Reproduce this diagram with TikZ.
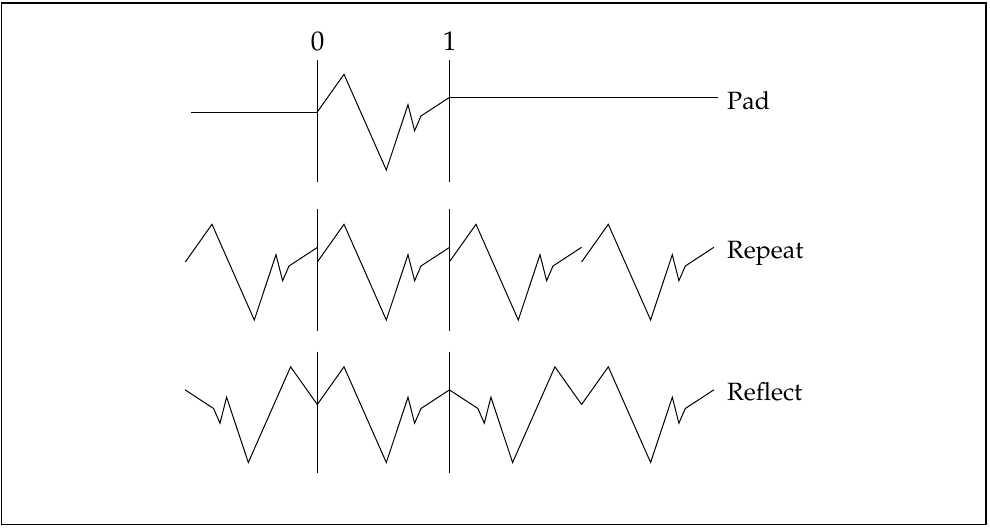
\documentclass[tikz,border=0pt]{standalone}
\usepackage[T1]{fontenc}
\usepackage{mathpazo}
\tikzset{
  waveline/.style={line width=1pt, line join=miter},
  axisline/.style={line width=1.1pt},
  lbl/.style={anchor=base west, inner sep=0pt, font=\fontsize{25}{28}\selectfont},
  tick/.style={anchor=base, inner sep=0pt, font=\fontsize{27}{30}\selectfont}
}
\newcommand{\wavepiece}[3]{%
  \draw[waveline, shift={(#1,#2)}, xscale=#3]
    (0,0) -- (26.7,-37.7) -- (69,58) -- (90.7,-7.3) -- (97.3,18.7) -- (103.7,4) -- (132.3,-14.7);}
\begin{document}
\begin{tikzpicture}[x=1pt,y=-1pt]
\useasboundingbox (0,0) rectangle (990,530);
\draw[line width=1.2pt] (1.5,3) rectangle (986,524.7);
% axis labels
\node[tick] (n0) at (317.5,50.7) {0};
\node[tick] (n1) at (449.5,50.7) {1};
% Pad row
\coordinate (padL) at (191,112);
\coordinate (padS) at (317.3,112);
\coordinate (padE) at (449.6,97.3);
\coordinate (padR) at (717.7,97.3);
\node[lbl] (pad) at (727,109.3) {Pad};
\draw[waveline] (padL) -- (padS);
\wavepiece{317.3}{112}{1}
\draw[waveline] (padE) -- (padR);
\draw[axisline] (317.3,60) -- (317.3,181.7);
\draw[axisline] (449.6,60) -- (449.6,181.7);
% Repeat row
\node[lbl] (rep) at (727,258.3) {Repeat};
\wavepiece{185.3}{262}{1}
\wavepiece{317.3}{262}{1}
\wavepiece{449.3}{262}{1}
\wavepiece{581.6}{262}{1}
\draw[axisline] (317.3,209) -- (317.3,330.7);
\draw[axisline] (449.6,209) -- (449.6,330.7);
% Reflect row
\node[lbl] (ref) at (727,400.3) {Reflect};
\wavepiece{317.3}{404.5}{-1}
\wavepiece{317.3}{404.5}{1}
\wavepiece{581.6}{404.5}{-1}
\wavepiece{581.6}{404.5}{1}
\draw[axisline] (317.3,351.7) -- (317.3,473.3);
\draw[axisline] (449.6,351.7) -- (449.6,473.3);
\end{tikzpicture}
\end{document}
